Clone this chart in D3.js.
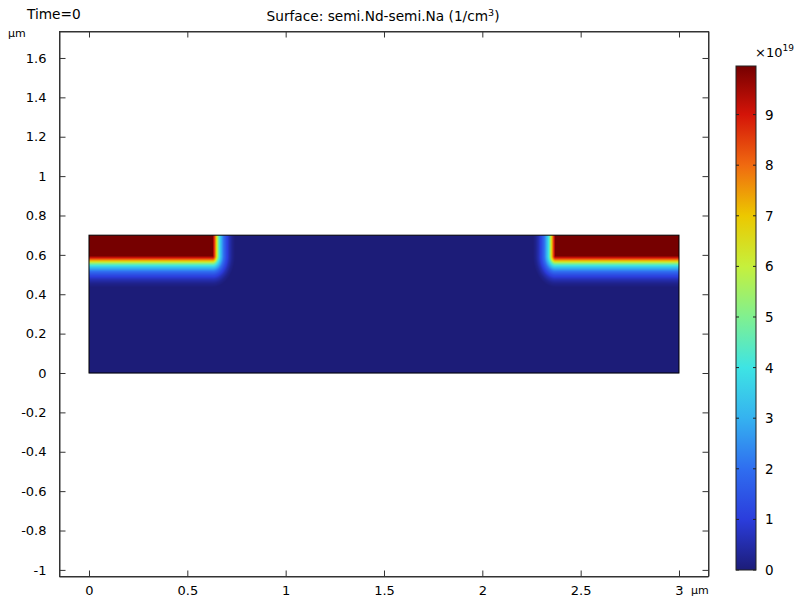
<!DOCTYPE html>
<html><head><meta charset="utf-8">
<script src="https://cdn.jsdelivr.net/npm/d3@7"></script>
<style>body{margin:0;background:#fff}svg{display:block;font-family:"DejaVu Sans",sans-serif}</style>
</head><body>
<svg id="c" width="798" height="598"></svg>
<script>
// ---- data ----
const xTicks = [0, 0.5, 1, 1.5, 2, 2.5, 3];
const yTicks = [-1, -0.8, -0.6, -0.4, -0.2, 0, 0.2, 0.4, 0.6, 0.8, 1, 1.2, 1.4, 1.6];
const cbTicks = [0, 1, 2, 3, 4, 5, 6, 7, 8, 9];
const domainRect = [0, 3, 0, 0.7];            // x0, x1, y0, y1 (µm)
const dopedLeft  = [0, 0.628, 0.595, 0.7];     // fully doped box, left contact
const dopedRight = [2.372, 3, 0.595, 0.7];     // fully doped box, right contact
const profileDist = [0, 0.01, 0.02, 0.03, 0.04, 0.05, 0.06, 0.08, 0.10, 0.12, 0.14, 0.16]; // µm below box
const profileVal  = [9.96, 9.0, 7.8, 6.4, 5.0, 4.0, 3.2, 2.0, 1.2, 0.6, 0.2, 0];        // ×1e19 1/cm³
const lateralStretch = 1.4;
const cbStops  = [0, 1, 2, 3, 4, 5, 6, 7, 8, 9, 9.96];
const cbColors = ["#1c1c78", "#2b3ddc", "#2f6ef0", "#35b2f0", "#3ee4e4", "#80f090",
                  "#c6f03c", "#ecc800", "#f06a10", "#d41408", "#760000"];
const cbMax = 9.96;

const svg = d3.select("#c");
const x = d3.scaleLinear().domain([-0.1525, 3.1475]).range([59, 708]);
const y = d3.scaleLinear().domain([-1.031, 1.737]).range([576, 31]);
const color = d3.scaleLinear().domain(cbStops).range(cbColors).clamp(true);
const prof = d3.scaleLinear().domain(profileDist).range(profileVal).clamp(true);

function boxDist(px, py, b) {
  const dx = Math.max(b[0] - px, 0, px - b[1]) * lateralStretch;
  const dy = Math.max(b[2] - py, 0, py - b[3]);
  return Math.hypot(dx, dy);
}
function field(px, py) {
  return prof(Math.min(boxDist(px, py, dopedLeft), boxDist(px, py, dopedRight)));
}

// ---- surface via canvas, positioned by scales ----
const x0 = x(domainRect[0]), x1 = x(domainRect[1]);
const y0 = y(domainRect[3]), y1 = y(domainRect[2]);
const W = Math.round(x1 - x0), H = Math.round(y1 - y0);
const cv = document.createElement("canvas");
cv.width = W; cv.height = H;
const ctx = cv.getContext("2d");
const img = ctx.createImageData(W, H);
for (let j = 0; j < H; j++) {
  for (let i = 0; i < W; i++) {
    const px = x.invert(x0 + i + 0.5), py = y.invert(y0 + j + 0.5);
    const c = d3.rgb(color(field(px, py)));
    const k = (j * W + i) * 4;
    img.data[k] = c.r; img.data[k+1] = c.g; img.data[k+2] = c.b; img.data[k+3] = 255;
  }
}
ctx.putImageData(img, 0, 0);
svg.append("image").attr("x", x0).attr("y", y0).attr("width", W).attr("height", H)
  .attr("preserveAspectRatio", "none").attr("href", cv.toDataURL());
svg.append("rect").attr("x", x0).attr("y", y0).attr("width", x1 - x0).attr("height", y1 - y0)
  .attr("fill", "none").attr("stroke", "#000").attr("stroke-width", 1);

// ---- axes frame with inward ticks ----
const fx0 = 59.5, fx1 = 708.5, fy0 = 31.5, fy1 = 576.5;
const tl = 6;
const axisStyle = g => { g.select(".domain").attr("stroke", "#333"); g.selectAll(".tick line").attr("stroke", "#333"); };
svg.append("g").attr("transform", `translate(0,${fy1})`)
  .call(d3.axisBottom(x).tickValues(xTicks).tickSizeInner(-tl).tickSizeOuter(0).tickPadding(9)
        .tickFormat(d => d3.format("")(d)))
  .call(axisStyle).call(g => g.selectAll("text").attr("font-size", 13).attr("fill", "#000").attr("font-family", "DejaVu Sans"));
svg.append("g").attr("transform", `translate(0,${fy0})`)
  .call(d3.axisTop(x).tickValues(xTicks).tickSizeInner(-tl).tickSizeOuter(0).tickFormat(""))
  .call(axisStyle);
svg.append("g").attr("transform", `translate(${fx0},0)`)
  .call(d3.axisLeft(y).tickValues(yTicks).tickSizeInner(-tl).tickSizeOuter(0).tickPadding(13)
        .tickFormat(d => d3.format("")(+d.toFixed(1)).replace("−", "-")))
  .call(axisStyle).call(g => g.selectAll("text").attr("font-size", 13).attr("fill", "#000").attr("font-family", "DejaVu Sans"));
svg.append("g").attr("transform", `translate(${fx1},0)`)
  .call(d3.axisRight(y).tickValues(yTicks).tickSizeInner(-tl).tickSizeOuter(0).tickFormat(""))
  .call(axisStyle);
svg.append("rect").attr("x", fx0).attr("y", fy0).attr("width", fx1 - fx0).attr("height", fy1 - fy0)
  .attr("fill", "none").attr("stroke", "#333");

// ---- titles ----
svg.append("text").attr("x", 27).attr("y", 19).attr("font-size", 13.7).text("Time=0");
svg.append("text").attr("x", 8).attr("y", 37).attr("font-size", 11).text("µm");
svg.append("text").attr("x", 691).attr("y", 594).attr("font-size", 11).text("µm");
const t = svg.append("text").attr("x", 383).attr("y", 21).attr("text-anchor", "middle").attr("font-size", 13.7);
t.append("tspan").text("Surface: semi.Nd-semi.Na (1/cm");
t.append("tspan").attr("font-size", 9.5).attr("dy", -5).text("3");
t.append("tspan").attr("dy", 5).text(")");

// ---- colorbar ----
const cbX = 736, cbW = 20;
const cy = d3.scaleLinear().domain([0, cbMax]).range([570, 66]);
const defs = svg.append("defs");
const grad = defs.append("linearGradient").attr("id", "cbg").attr("x1", 0).attr("y1", 1).attr("x2", 0).attr("y2", 0);
cbStops.forEach((s, i) => grad.append("stop").attr("offset", s / cbMax).attr("stop-color", cbColors[i]));
svg.append("rect").attr("x", cbX).attr("y", cy(cbMax)).attr("width", cbW).attr("height", cy(0) - cy(cbMax))
  .attr("fill", "url(#cbg)").attr("stroke", "#222").attr("stroke-width", 1);
const cbt = svg.append("g");
cbTicks.forEach(v => {
  cbt.append("line").attr("x1", cbX).attr("x2", cbX + 3).attr("y1", cy(v)).attr("y2", cy(v)).attr("stroke", "#222");
  cbt.append("line").attr("x1", cbX + cbW - 3).attr("x2", cbX + cbW).attr("y1", cy(v)).attr("y2", cy(v)).attr("stroke", "#222");
  cbt.append("text").attr("x", 765).attr("y", cy(v) + 5).attr("font-size", 13.5).text(v);
});
const ex = svg.append("text").attr("x", 755).attr("y", 57).attr("font-size", 13);
ex.append("tspan").text("×10");
ex.append("tspan").attr("font-size", 9).attr("dy", -6).text("19");
</script>
</body></html>
